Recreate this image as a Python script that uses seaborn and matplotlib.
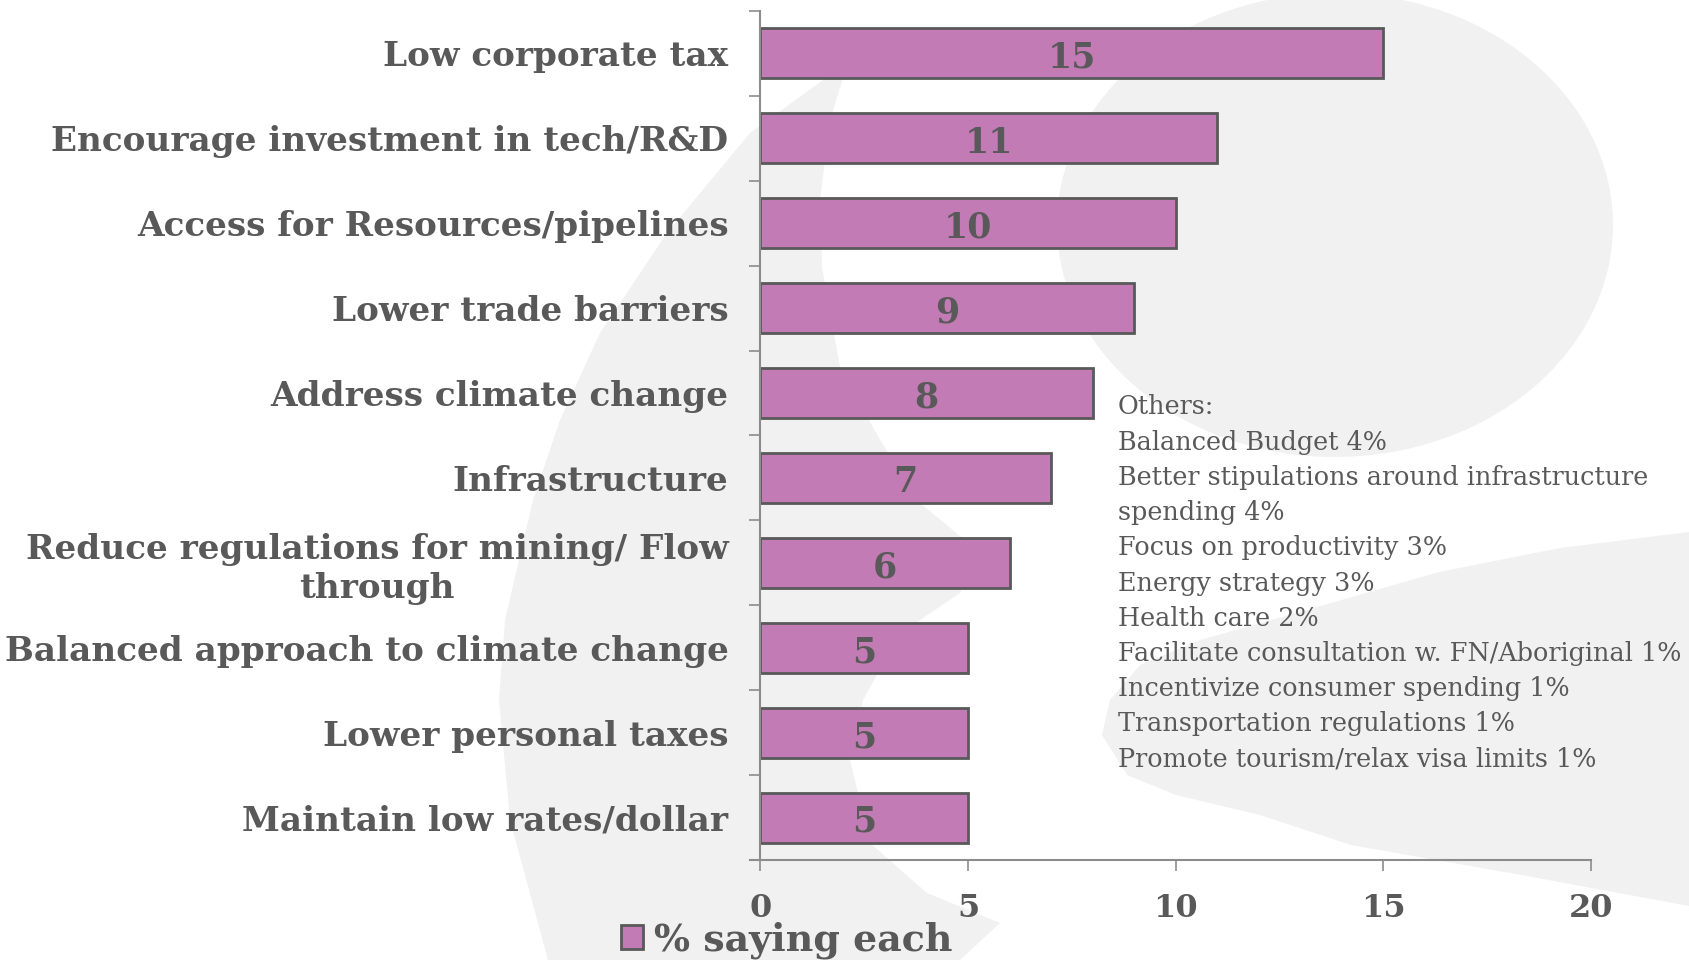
import matplotlib
matplotlib.use("Agg")
import matplotlib.pyplot as plt
import seaborn as sns
import pandas as pd
from matplotlib.patches import Polygon, Ellipse
from matplotlib.transforms import Affine2D

# ---------------- data ----------------
categories = [
    "Low corporate tax",
    "Encourage investment in tech/R&D",
    "Access for Resources/pipelines",
    "Lower trade barriers",
    "Address climate change",
    "Infrastructure",
    "Reduce regulations for mining/ Flow\nthrough",
    "Balanced approach to climate change",
    "Lower personal taxes",
    "Maintain low rates/dollar",
]
values = [15, 11, 10, 9, 8, 7, 6, 5, 5, 5]
x_ticks = [0, 5, 10, 15, 20]
series_label = "% saying each"
others_lines = [
    "Others:",
    "Balanced Budget 4%",
    "Better stipulations around infrastructure",
    "spending 4%",
    "Focus on productivity 3%",
    "Energy strategy 3%",
    "Health care 2%",
    "Facilitate consultation w. FN/Aboriginal 1%",
    "Incentivize consumer spending 1%",
    "Transportation regulations 1%",
    "Promote tourism/relax visa limits 1%",
]

# ---------------- style ----------------
W, H = 1689, 960
BAR = "#C27BB5"
EDGE = "#595959"
TXT = "#595959"
AXC = "#8c8c8c"
BG = "#f1f1f1"

sns.set_theme(style="white")
plt.rcParams["font.family"] = ["DejaVu Serif"]

fig = plt.figure(figsize=(W / 100, H / 100), dpi=100)
px = Affine2D().scale(1 / W, -1 / H).translate(0, 1) + fig.transFigure

# background decorative shapes
fig.add_artist(Ellipse((1335, 225), 2 * 278, 2 * 232, transform=px,
                       facecolor=BG, edgecolor="none", zorder=-5))
crescent = [(848, 62), (750, 133), (667, 233), (600, 333), (560, 420), (533, 500),
            (505, 620), (499, 700), (510, 820), (548, 960), (960, 960), (1000, 923),
            (927, 893), (870, 843), (850, 760), (863, 700), (887, 657), (920, 620),
            (960, 593), (977, 550), (920, 503), (880, 440), (840, 367), (822, 267),
            (820, 200), (830, 120)]
fig.add_artist(Polygon(crescent, closed=True, transform=px,
                       facecolor=BG, edgecolor="none", zorder=-5))
swoosh = [(1102, 735), (1110, 700), (1140, 665), (1200, 640), (1300, 612),
          (1439, 572), (1560, 548), (1689, 532), (1689, 906), (1527, 876),
          (1351, 845), (1260, 815), (1176, 795), (1127, 775)]
fig.add_artist(Polygon(swoosh, closed=True, transform=px,
                       facecolor=BG, edgecolor="none", zorder=-5))

ax = fig.add_axes([750 / W, 1 - 860 / H, (1591 - 750) / W, (860 - 11) / H])
ax.patch.set_alpha(0)

df = pd.DataFrame({"cat": categories, "val": values})
sns.barplot(data=df, x="val", y="cat", orient="h", color=BAR, saturation=1,
            edgecolor=EDGE, linewidth=2, width=0.59, label=series_label, ax=ax)

ax.set_xlim(-0.25, 20)
ax.set_ylim(len(categories) - 0.5, -0.5)
ax.set_xlabel("")
ax.set_ylabel("")

for s in ["top", "right"]:
    ax.spines[s].set_visible(False)
ax.spines["left"].set_position(("data", 0))
for s in ["left", "bottom"]:
    ax.spines[s].set_color(AXC)
    ax.spines[s].set_linewidth(1.5)

# x ticks
ax.set_xticks(x_ticks)
ax.set_xticklabels([str(t) for t in x_ticks])
ax.tick_params(axis="x", direction="out", length=8, width=1.2, color=AXC,
               pad=16, labelsize=23, labelcolor=TXT, bottom=True)
for lab in ax.get_xticklabels():
    lab.set_fontweight("bold")

# y: major ticks at boundaries (no labels), minor at centres with labels
n = len(categories)
ax.set_yticks([i - 0.5 for i in range(n + 1)])
ax.set_yticklabels([""] * (n + 1))
ax.set_yticks(range(n), minor=True)
ax.set_yticklabels(categories, minor=True)
ax.tick_params(axis="y", which="major", direction="out", length=8, width=1.2,
               color=AXC, left=True)
ax.tick_params(axis="y", which="minor", length=0, pad=23, labelsize=24.7,
               labelcolor=TXT, left=True)
for lab in ax.get_yticklabels(minor=True):
    lab.set_fontweight("bold")
    lab.set_multialignment("center")

# value labels
for i, v in enumerate(values):
    ax.text(v / 2, i + 0.17, str(v), ha="center", va="baseline",
            fontsize=25, fontweight="bold", color=TXT)

# others text block
for k, line in enumerate(others_lines):
    fig.text(1118 / W, 1 - (407 + 35.2 * k) / H, line, ha="left", va="center",
             fontsize=18.4, color=TXT)

# legend
leg = ax.legend(loc="center left", bbox_to_anchor=(621 / W, 1 - 940 / H),
                bbox_transform=fig.transFigure, frameon=False,
                handlelength=0.57, handleheight=0.57, handletextpad=0.3,
                borderpad=0, borderaxespad=0,
                prop={"size": 27.4, "weight": "bold"})
for t in leg.get_texts():
    t.set_color(TXT)

fig.savefig("out.png", dpi=100)
